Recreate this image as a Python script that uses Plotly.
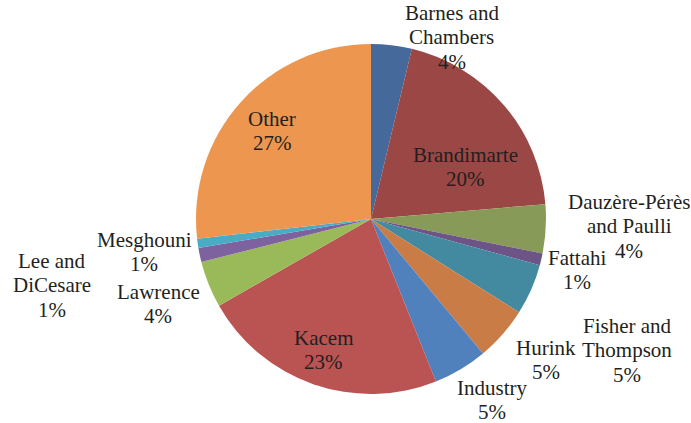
import plotly.graph_objects as go

# Data (clockwise from 12 o'clock)
labels = ["Barnes and Chambers", "Brandimarte", "Dauzère-Pérès and Paulli", "Fattahi",
          "Fisher and Thompson", "Hurink", "Industry", "Kacem", "Lawrence",
          "Lee and DiCesare", "Mesghouni", "Other"]
values = [3.75, 19.9, 4.5, 1.1, 4.7, 5.0, 5.0, 22.8, 4.3, 1.3, 0.85, 26.8]
pct_labels = ["4%", "20%", "4%", "1%", "5%", "5%", "5%", "23%", "4%", "1%", "1%", "27%"]

# Label line breaks as shown in the chart
display_lines = [["Barnes and", "Chambers"], ["Brandimarte"], ["Dauzère-Pérès", "and Paulli"],
                 ["Fattahi"], ["Fisher and", "Thompson"], ["Hurink"], ["Industry"], ["Kacem"],
                 ["Lawrence"], ["Lee and", "DiCesare"], ["Mesghouni"], ["Other"]]

colors = ["#44699A", "#9A4745", "#889A58", "#6D5486", "#438AA0", "#C97C45",
          "#5181BD", "#BA5452", "#9ABA5A", "#7E62A0", "#4AABC5", "#EC964F"]

W, H = 691, 423
cx, cy, r = 371, 219, 175
LINE = 24.3

# label x-centre and first-line y-centre in pixels (layout only)
label_pos = [(452, 13), (465, 155), (629, 202), (577, 258), (627, 326), (546, 348),
             (492, 388), (323, 338), (158, 292), (52, 261), (144, 240), (272, 119)]

fig = go.Figure(go.Pie(
    labels=labels, values=values, sort=False, direction="clockwise", rotation=0,
    marker=dict(colors=colors, line=dict(width=0)),
    textinfo="none", hoverinfo="label+percent", showlegend=False,
    domain=dict(x=[(cx - r) / W, (cx + r) / W], y=[1 - (cy + r) / H, 1 - (cy - r) / H]),
))

for lines, pct, (px, py) in zip(display_lines, pct_labels, label_pos):
    for i, txt in enumerate(lines + [pct]):
        fig.add_annotation(
            x=px / W, y=1 - (py + i * LINE) / H, xref="paper", yref="paper",
            text=txt, showarrow=False, align="center",
            xanchor="center", yanchor="middle",
            font=dict(family="Liberation Serif", size=21, color="#231F20"),
        )

fig.update_layout(
    width=W, height=H, margin=dict(l=0, r=0, t=0, b=0),
    paper_bgcolor="white", plot_bgcolor="white",
)

fig.write_html("out.html", config={"displayModeBar": False},
               post_script="document.body.style.margin='0';")
